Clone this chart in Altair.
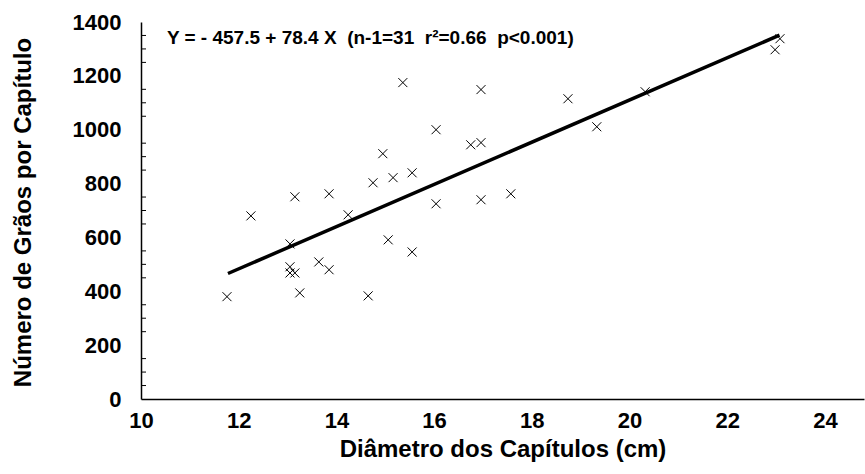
import altair as alt
import pandas as pd

# Scatter data
diametro = [11.76, 12.25, 13.15, 13.85, 14.75, 14.24, 13.05, 13.05, 13.05, 13.15,
            13.64, 13.85, 13.25, 14.65, 15.36, 16.96, 18.74, 16.04, 16.75, 16.96,
            19.33, 14.95, 15.16, 15.55, 16.04, 16.96, 17.57, 15.06, 15.55, 20.32,
            23.08, 22.98]
graos = [380, 680, 751, 762, 803, 684, 576, 491, 468, 468,
         509, 480, 394, 383, 1175, 1149, 1115, 1000, 944, 952,
         1011, 911, 822, 840, 725, 740, 762, 591, 546, 1141,
         1338, 1297]

# Regression line end points (Y = -457.5 + 78.4 X)
linha_x = [11.78, 23.07]
linha_y = [466, 1351]

x_ticks = [10, 12, 14, 16, 18, 20, 22, 24]
y_ticks = [0, 200, 400, 600, 800, 1000, 1200, 1400]
y_minor = [50, 100, 150, 250, 300, 350, 450, 500, 550, 650, 700, 750,
           850, 900, 950, 1050, 1100, 1150, 1250, 1300, 1350]

annot_x = [10.53]
annot_y = [1342]
annot_text = ["Y = - 457.5 + 78.4 X\u00a0\u00a0(n-1=31\u00a0\u00a0r\u00b2=0.66\u00a0\u00a0p<0.001)"]

FONT = "Liberation Sans"

pts = pd.DataFrame({"x": diametro, "y": graos})
lin = pd.DataFrame({"x": linha_x, "y": linha_y})
minor = pd.DataFrame({"y": y_minor})
ann = pd.DataFrame({"x": annot_x, "y": annot_y, "t": annot_text})

xs = alt.Scale(domain=[10, 24.8], nice=False, zero=False)
ys = alt.Scale(domain=[0, 1400], nice=False)

x_axis = alt.Axis(values=x_ticks, format="d", title="Diâmetro dos Capítulos (cm)", ticks=False,
                  grid=False, domainColor="black", domainWidth=1.5,
                  labelFont=FONT, labelFontSize=22, labelFontWeight="bold",
                  labelColor="black", labelPadding=11, labelFlush=False,
                  titleFont=FONT, titleFontSize=24, titleFontWeight="bold",
                  titleColor="black", titleY=50, titleBaseline="middle")
y_axis = alt.Axis(values=y_ticks, format="d", title="Número de Grãos por Capítulo", ticks=False,
                  grid=False, domainColor="black", domainWidth=1.5,
                  labelFont=FONT, labelFontSize=22, labelFontWeight="bold",
                  labelColor="black", labelPadding=20, labelFlush=False,
                  titleFont=FONT, titleFontSize=24, titleFontWeight="bold",
                  titleColor="black", titleX=-118, titleY=190, titleAngle=-90,
                  titleAlign="center", titleBaseline="middle")

points = alt.Chart(pts).mark_point(
    shape="M-1,-1L1,1M-1,1L1,-1", size=81, filled=False,
    color="black", strokeWidth=1, opacity=1
).encode(
    x=alt.X("x:Q", scale=xs, axis=x_axis),
    y=alt.Y("y:Q", scale=ys, axis=y_axis),
)

line = alt.Chart(lin).mark_line(color="black", strokeWidth=3.5).encode(
    x=alt.X("x:Q", scale=xs, axis=x_axis),
    y=alt.Y("y:Q", scale=ys, axis=y_axis),
)

ticks = alt.Chart(minor).mark_rule(color="black", strokeWidth=1).encode(
    y=alt.Y("y:Q", scale=ys, axis=y_axis),
    x=alt.value(0),
    x2=alt.value(5),
)

text = alt.Chart(ann).mark_text(
    align="left", baseline="middle", font=FONT, fontSize=19,
    fontWeight="bold", color="black"
).encode(
    x=alt.X("x:Q", scale=xs, axis=x_axis),
    y=alt.Y("y:Q", scale=ys, axis=y_axis),
    text="t:N",
)

chart = alt.layer(ticks, line, points, text).properties(
    width=723, height=377,
    padding={"left": 141, "top": 22, "right": 1, "bottom": 75},
    autosize=alt.AutoSizeParams(type="none"),
    background="white",
).configure_view(stroke=None)

chart.save("out.html", embed_options={"renderer": "svg", "actions": False})
